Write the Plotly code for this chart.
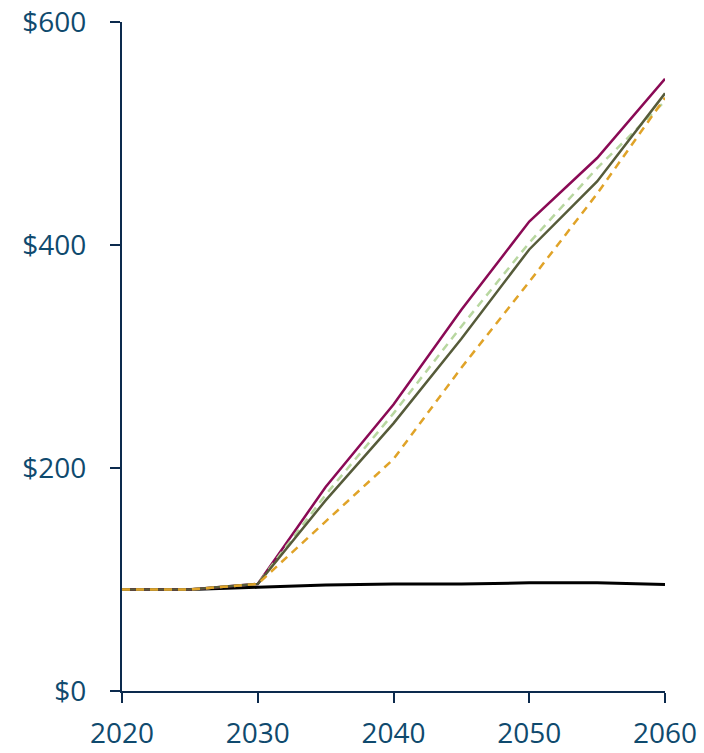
import plotly.graph_objects as go

# Projected values by year
years = [2020, 2025, 2030, 2035, 2040, 2045, 2050, 2055, 2060]
baseline = [91, 91, 93, 95, 96, 96, 97, 97, 95.5]
scenario_high = [91, 91, 96, 183, 257, 342, 421, 478, 549]
scenario_green = [91, 91, 96, 176, 249, 327, 402, 469, 529]
scenario_mid = [91, 91, 96, 171, 240, 316, 396, 457, 536]
scenario_low = [91, 91, 96, 152, 208, 290, 367, 446, 532]

y_ticks = [0, 200, 400, 600]
y_tick_text = ["$0", "$200", "$400", "$600"]
x_ticks = [2020, 2030, 2040, 2050, 2060]

AXIS = "#0c2a4d"
LABEL = "#0f4a6e"

fig = go.Figure()
fig.add_trace(go.Scatter(x=years, y=baseline, mode="lines",
                         line=dict(color="#000000", width=3)))
fig.add_trace(go.Scatter(x=years, y=scenario_high, mode="lines",
                         line=dict(color="#8a0a55", width=2.5)))
fig.add_trace(go.Scatter(x=years, y=scenario_green, mode="lines",
                         line=dict(color="#b8d7a0", width=2.5, dash="8px,6px")))
fig.add_trace(go.Scatter(x=years, y=scenario_mid, mode="lines",
                         line=dict(color="#565b3a", width=2.5)))
fig.add_trace(go.Scatter(x=years, y=scenario_low, mode="lines",
                         line=dict(color="#e0a328", width=2.5, dash="8px,6px")))

fig.update_layout(
    width=704, height=753,
    margin=dict(l=122, r=39, t=22, b=62),
    paper_bgcolor="white", plot_bgcolor="white",
    showlegend=False,
    font=dict(family="Open Sans", size=28, color=LABEL),
)
fig.update_xaxes(
    range=[2020, 2060], tickvals=x_ticks, showgrid=False, zeroline=False,
    showline=True, linecolor=AXIS, linewidth=2, automargin=False,
    ticks="outside", ticklen=10, tickwidth=2, tickcolor=AXIS,
    ticklabelstandoff=6,
)
fig.update_yaxes(
    range=[0, 600], tickvals=y_ticks, ticktext=y_tick_text, showgrid=False,
    zeroline=False, showline=True, linecolor=AXIS, linewidth=2, automargin=False,
    ticks="outside", ticklen=10, tickwidth=2, tickcolor=AXIS,
    ticklabelstandoff=18,
)

fig.write_html("out.html")
